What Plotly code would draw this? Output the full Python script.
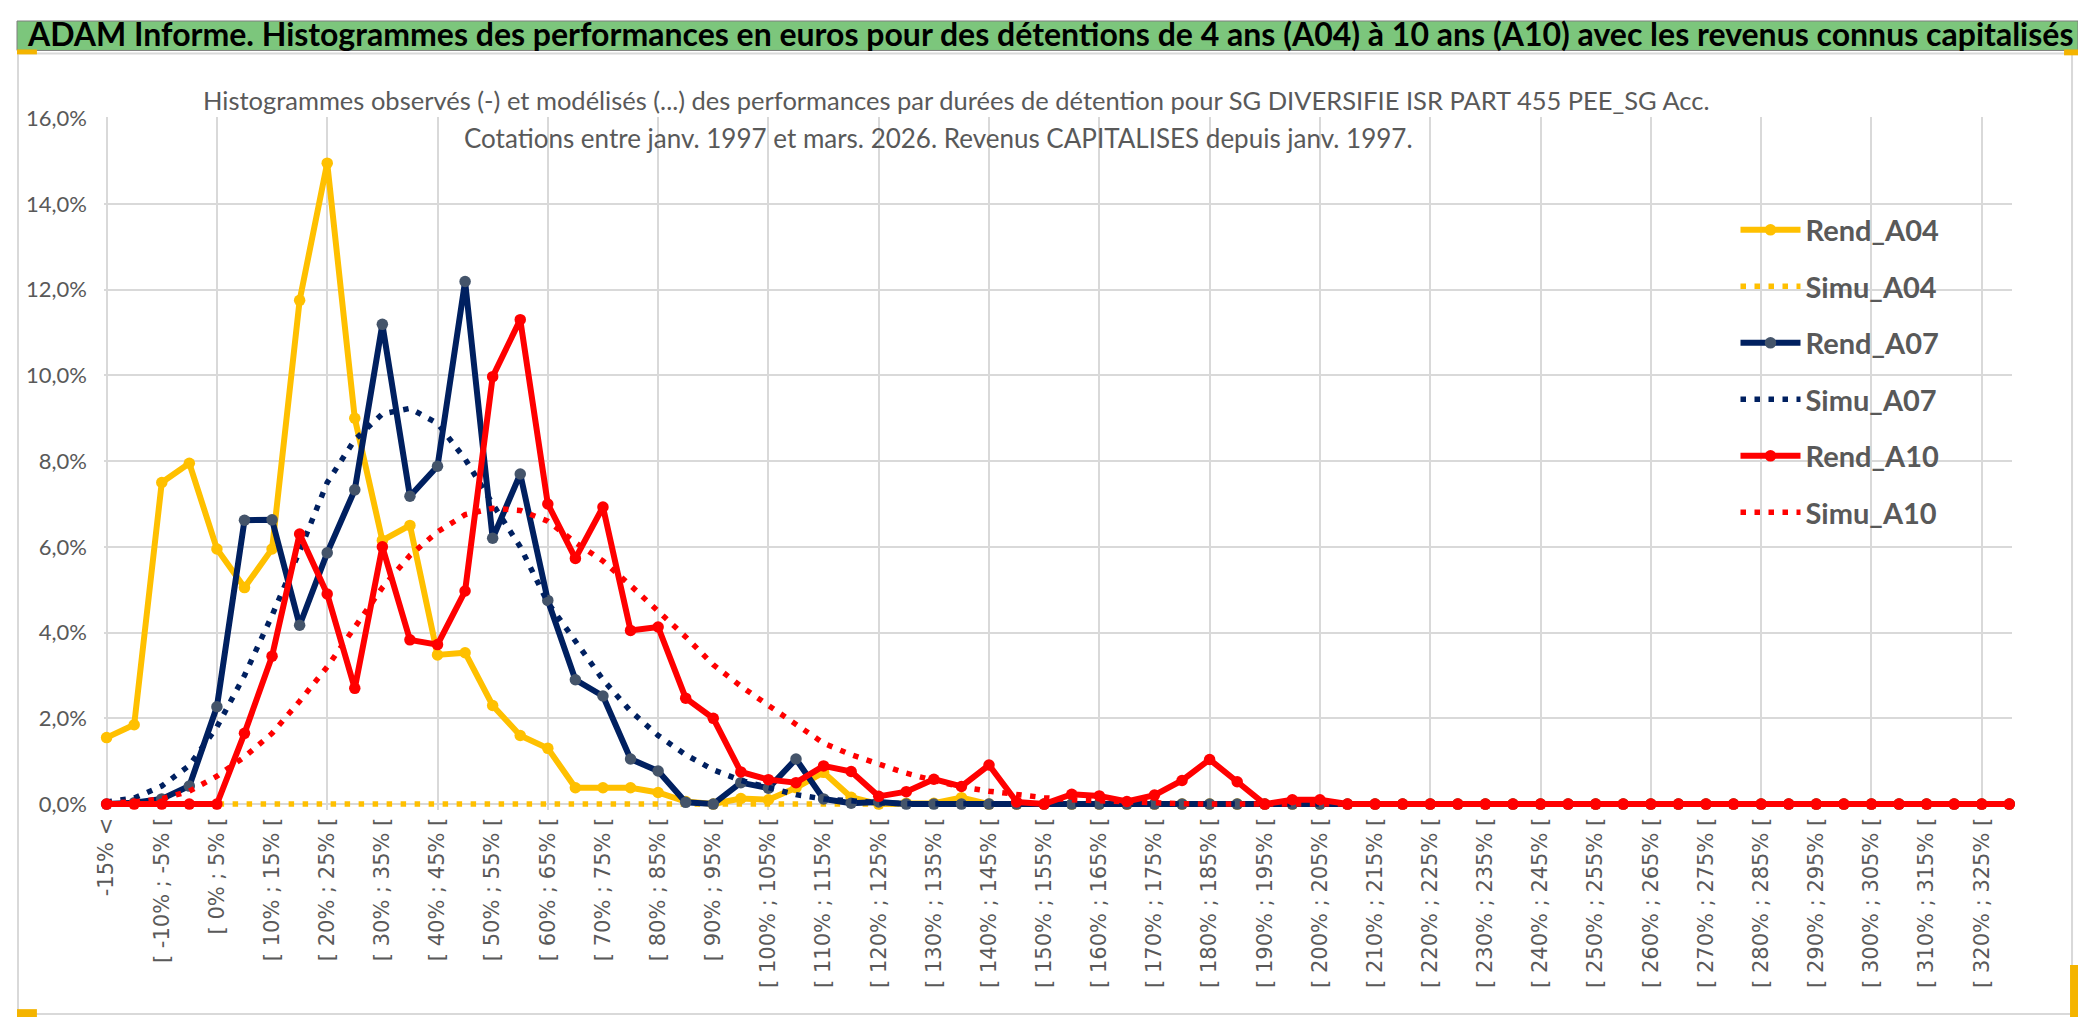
import plotly.graph_objects as go

# Browser body keeps an 8px margin: the figure is laid out inside it.
PAGE_W, PAGE_H = 2086, 1031
OFF = 8
W, H = PAGE_W - 2 * OFF, PAGE_H - 2 * OFF

categories = [
    "-15% <", "[ -15% ; -10% [", "[ -10% ; -5% [", "[ -5% ; 0% [", "[ 0% ; 5% [",
    "[ 5% ; 10% [", "[ 10% ; 15% [", "[ 15% ; 20% [", "[ 20% ; 25% [", "[ 25% ; 30% [",
    "[ 30% ; 35% [", "[ 35% ; 40% [", "[ 40% ; 45% [", "[ 45% ; 50% [", "[ 50% ; 55% [",
    "[ 55% ; 60% [", "[ 60% ; 65% [", "[ 65% ; 70% [", "[ 70% ; 75% [", "[ 75% ; 80% [",
    "[ 80% ; 85% [", "[ 85% ; 90% [", "[ 90% ; 95% [", "[ 95% ; 100% [", "[ 100% ; 105% [",
    "[ 105% ; 110% [", "[ 110% ; 115% [", "[ 115% ; 120% [", "[ 120% ; 125% [", "[ 125% ; 130% [",
    "[ 130% ; 135% [", "[ 135% ; 140% [", "[ 140% ; 145% [", "[ 145% ; 150% [", "[ 150% ; 155% [",
    "[ 155% ; 160% [", "[ 160% ; 165% [", "[ 165% ; 170% [", "[ 170% ; 175% [", "[ 175% ; 180% [",
    "[ 180% ; 185% [", "[ 185% ; 190% [", "[ 190% ; 195% [", "[ 195% ; 200% [", "[ 200% ; 205% [",
    "[ 205% ; 210% [", "[ 210% ; 215% [", "[ 215% ; 220% [", "[ 220% ; 225% [", "[ 225% ; 230% [",
    "[ 230% ; 235% [", "[ 235% ; 240% [", "[ 240% ; 245% [", "[ 245% ; 250% [", "[ 250% ; 255% [",
    "[ 255% ; 260% [", "[ 260% ; 265% [", "[ 265% ; 270% [", "[ 270% ; 275% [", "[ 275% ; 280% [",
    "[ 280% ; 285% [", "[ 285% ; 290% [", "[ 290% ; 295% [", "[ 295% ; 300% [", "[ 300% ; 305% [",
    "[ 305% ; 310% [", "[ 310% ; 315% [", "[ 315% ; 320% [", "[ 320% ; 325% [", "[ 325% ; 330% [",
]

# values in percent
rend_a04 = [1.55, 1.85, 7.5, 7.95, 5.95, 5.05, 5.95, 11.75, 14.95, 9.0,
            6.15, 6.5, 3.48, 3.53, 2.3, 1.6, 1.3, 0.38, 0.38, 0.38,
            0.27, 0.06, 0.0, 0.13, 0.1, 0.38, 0.74, 0.16, 0.0, 0.02,
            0.02, 0.15, 0, 0, 0, 0, 0, 0, 0, 0,
            0, 0, 0, 0, 0, 0, 0, 0, 0, 0,
            0, 0, 0, 0, 0, 0, 0, 0, 0, 0,
            0, 0, 0, 0, 0, 0, 0, 0, 0, 0]
simu_a04 = [0, 0, 0, 0, 0, 0, 0, 0, 0, 0,
            0, 0, 0, 0, 0, 0, 0, 0, 0, 0,
            0, 0, 0, 0, 0, 0, 0, 0, 0, 0,
            0, 0, 0, 0, 0, 0, 0, 0, 0, 0,
            0, 0, 0, 0, 0, 0, 0, 0, 0, 0,
            0, 0, 0, 0, 0, 0, 0, 0, 0, 0,
            0, 0, 0, 0, 0, 0, 0, 0, 0, 0]
rend_a07 = [0.0, 0.03, 0.12, 0.42, 2.27, 6.62, 6.63, 4.17, 5.86, 7.33,
            11.19, 7.18, 7.88, 12.19, 6.2, 7.7, 4.75, 2.9, 2.52, 1.05,
            0.77, 0.04, 0.0, 0.5, 0.37, 1.05, 0.12, 0.02, 0.05, 0.0,
            0, 0, 0, 0, 0, 0, 0, 0, 0, 0,
            0, 0, 0, 0, 0, 0, 0, 0, 0, 0,
            0, 0, 0, 0, 0, 0, 0, 0, 0, 0,
            0, 0, 0, 0, 0, 0, 0, 0, 0, 0]
simu_a07 = [0.05, 0.14, 0.42, 0.9, 1.8, 3.0, 4.4, 5.9, 7.5, 8.5,
            9.1, 9.23, 8.88, 8.05, 7.0, 6.0, 4.7, 3.8, 2.9, 2.17,
            1.6, 1.15, 0.8, 0.55, 0.37, 0.22, 0.12, 0.06, 0.03, 0.01,
            0, 0, 0, 0, 0, 0, 0, 0, 0, 0,
            0, 0, 0, 0, 0, 0, 0, 0, 0, 0,
            0, 0, 0, 0, 0, 0, 0, 0, 0, 0,
            0, 0, 0, 0, 0, 0, 0, 0, 0, 0]
rend_a10 = [0, 0, 0, 0, 0, 1.65, 3.45, 6.3, 4.9, 2.7,
            6.0, 3.83, 3.72, 4.97, 9.97, 11.3, 7.0, 5.73, 6.93, 4.05,
            4.13, 2.47, 2.0, 0.75, 0.57, 0.5, 0.89, 0.76, 0.18, 0.29,
            0.58, 0.41, 0.91, 0.05, 0.0, 0.23, 0.19, 0.06, 0.21, 0.55,
            1.04, 0.52, 0.0, 0.1, 0.1, 0, 0, 0, 0, 0,
            0, 0, 0, 0, 0, 0, 0, 0, 0, 0,
            0, 0, 0, 0, 0, 0, 0, 0, 0, 0]
simu_a10 = [0.02, 0.05, 0.12, 0.3, 0.65, 1.1, 1.65, 2.4, 3.2, 4.1,
            5.05, 5.8, 6.35, 6.75, 6.9, 6.85, 6.6, 6.1, 5.67, 5.1,
            4.5, 3.9, 3.25, 2.75, 2.3, 1.85, 1.42, 1.15, 0.92, 0.72,
            0.55, 0.4, 0.3, 0.22, 0.15, 0.1, 0.07, 0.04, 0.02, 0.01,
            0, 0, 0, 0, 0, 0, 0, 0, 0, 0,
            0, 0, 0, 0, 0, 0, 0, 0, 0, 0,
            0, 0, 0, 0, 0, 0, 0, 0, 0, 0]

y_tick_vals = [0, 2, 4, 6, 8, 10, 12, 14, 16]
y_tick_text = ["0,0%", "2,0%", "4,0%", "6,0%", "8,0%", "10,0%", "12,0%", "14,0%", "16,0%"]

header_title = ("ADAM Informe. Histogrammes des performances en euros pour des détentions "
                "de 4 ans (A04) à 10 ans (A10) avec les revenus connus capitalisés")
sub_line1 = ("Histogrammes observés (-) et modélisés (...) des performances par durées de "
             "détention pour SG DIVERSIFIE ISR PART 455 PEE_SG Acc.")
sub_line2 = "Cotations entre janv. 1997 et mars. 2026. Revenus CAPITALISES depuis janv. 1997."

YELLOW = "#FFC000"
NAVY = "#002060"
NAVY_MK = "#44546A"
RED = "#FF0000"
GRAY_TXT = "#595959"
GRID = "#D9D9D9"
CAL = "Lato, Liberation Sans, sans-serif"


def px(x):
    """page pixel -> paper fraction"""
    return (x - OFF) / W


def py(y):
    return 1 - (y - OFF) / H


x_idx = list(range(len(categories)))

fig = go.Figure()

series = [
    ("Rend_A04", rend_a04, YELLOW, YELLOW, "solid"),
    ("Simu_A04", simu_a04, YELLOW, None, "dot"),
    ("Rend_A07", rend_a07, NAVY, NAVY_MK, "solid"),
    ("Simu_A07", simu_a07, NAVY, None, "dot"),
    ("Rend_A10", rend_a10, RED, RED, "solid"),
    ("Simu_A10", simu_a10, RED, None, "dot"),
]
for name, vals, col, mk, style in series:
    if style == "solid":
        fig.add_trace(go.Scatter(
            x=x_idx, y=vals, name=name, legendgroup=name, mode="lines+markers",
            line=dict(color=col, width=6),
            marker=dict(color=mk, size=11.5, line=dict(width=0)),
            cliponaxis=False,
        ))
    else:
        fig.add_trace(go.Scatter(
            x=x_idx, y=vals, name=name, legendgroup=name, mode="lines",
            line=dict(color=col, width=5.5, dash="5.5px,8.5px"),
            cliponaxis=False,
        ))

# pixel geometry of plot area (page pixels)
x0_px, x69_px = 98, 2009
y16_px, y0_px = 107, 806
ppu_x = (x69_px - x0_px) / 69.0
ppu_y = (y0_px - y16_px) / 16.0
xr = [-0.1, 69.1]
yr = [-0.15, 16.02]
dom_x = [px(x0_px + xr[0] * ppu_x), px(x0_px + xr[1] * ppu_x)]
dom_y = [py(y0_px - yr[0] * ppu_y), py(y0_px - yr[1] * ppu_y)]

fig.update_layout(
    width=W, height=H,
    margin=dict(l=0, r=0, t=0, b=0, pad=0),
    paper_bgcolor="white", plot_bgcolor="white",
    showlegend=True,
    legend=dict(
        x=px(1734), y=py(195), xanchor="left", yanchor="top",
        bgcolor="rgba(0,0,0,0)", borderwidth=0,
        font=dict(family=CAL, size=29, color=GRAY_TXT, weight="bold"),
        itemwidth=60, tracegroupgap=15.8, traceorder="grouped",
    ),
    xaxis=dict(
        domain=dom_x, range=xr, showgrid=False, zeroline=False, showline=False,
        tickmode="array", tickvals=x_idx[::2], ticktext=categories[::2],
        tickangle=-90, ticks="", ticklabelstandoff=2,
        tickfont=dict(family="DejaVu Sans", size=21, color=GRAY_TXT),
    ),
    xaxis2=dict(
        domain=dom_x, range=xr, overlaying="x", anchor="y",
        tickmode="array", tickvals=x_idx[::4], showticklabels=False,
        showgrid=True, gridcolor=GRID, gridwidth=2, zeroline=False, ticks="",
    ),
    yaxis=dict(
        domain=dom_y, range=yr, showgrid=True, gridcolor=GRID, gridwidth=2,
        zeroline=False, showline=False, tickmode="array",
        tickvals=y_tick_vals, ticktext=y_tick_text, ticks="", ticklabelstandoff=16,
        tickfont=dict(family=CAL, size=22, color=GRAY_TXT),
    ),
)

# invisible trace so that the grid axis xaxis2 exists
fig.add_trace(go.Scatter(x=[0], y=[0], xaxis="x2", yaxis="y", mode="markers",
                         marker=dict(opacity=0), showlegend=False, hoverinfo="skip"))

shapes = [
    # chart area frame
    dict(type="rect", xref="paper", yref="paper", x0=px(9), x1=px(2072), y0=py(1020), y1=py(41),
         line=dict(color=GRID, width=2), fillcolor="rgba(0,0,0,0)", layer="below"),
    # header band
    dict(type="rect", xref="paper", yref="paper", x0=0, x1=1, y0=py(38), y1=1,
         line=dict(color="#7F7F7F", width=1), fillcolor="#7CC67C", layer="below"),
    # title box masking gridlines
    dict(type="rect", xref="paper", yref="paper", x0=px(200), x1=px(1710), y0=py(150), y1=py(50),
         line=dict(width=0), fillcolor="white", layer="between"),
    # legend box masking gridlines
    dict(type="rect", xref="paper", yref="paper", x0=px(1700), x1=px(1988), y0=py(540), y1=py(195),
         line=dict(width=0), fillcolor="white", layer="between"),
    # selection handles
    dict(type="rect", xref="paper", yref="paper", x0=0, x1=px(28), y0=py(42), y1=py(37),
         line=dict(width=0), fillcolor="#F4B400"),
    dict(type="rect", xref="paper", yref="paper", x0=0, x1=px(28), y0=0, y1=py(1015),
         line=dict(width=0), fillcolor="#F4B400"),
    dict(type="rect", xref="paper", yref="paper", x0=px(2064), x1=1, y0=py(43), y1=py(37),
         line=dict(width=0), fillcolor="#F4B400"),
    dict(type="rect", xref="paper", yref="paper", x0=px(2070), x1=1, y0=0, y1=py(970),
         line=dict(width=0), fillcolor="#F4B400"),
]
fig.update_layout(shapes=shapes)

fig.add_annotation(xref="paper", yref="paper", x=px(16), y=py(21), xanchor="left", yanchor="middle",
                   text=header_title, showarrow=False,
                   font=dict(family=CAL, size=32, color="black", weight="bold"))
fig.add_annotation(xref="paper", yref="paper", x=px(951), y=py(89), xanchor="center", yanchor="middle",
                   text=sub_line1, showarrow=False,
                   font=dict(family=CAL, size=25.5, color=GRAY_TXT))
fig.add_annotation(xref="paper", yref="paper", x=px(934), y=py(127), xanchor="center", yanchor="middle",
                   text=sub_line2, showarrow=False,
                   font=dict(family=CAL, size=26, color=GRAY_TXT))

fig.write_html("out.html")
